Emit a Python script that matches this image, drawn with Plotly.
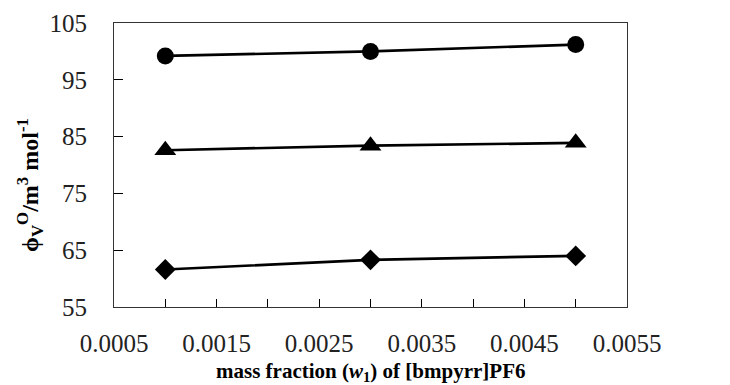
import plotly.graph_objects as go

mass_fraction = [0.001, 0.003, 0.005]
series_circle = [99.2, 100.0, 101.2]
series_triangle = [82.6, 83.4, 83.9]
series_diamond = [61.6, 63.3, 64.0]

x_tick_vals = [0.0005, 0.001, 0.0015, 0.002, 0.0025, 0.003, 0.0035, 0.004, 0.0045, 0.005, 0.0055]
x_tick_text = ["0.0005", "", "0.0015", "", "0.0025", "", "0.0035", "", "0.0045", "", "0.0055"]
y_tick_vals = [55, 65, 75, 85, 95, 105]

fig = go.Figure()
for ys, sym, size in [(series_circle, "circle", 17), (series_triangle, "triangle-up", 19), (series_diamond, "diamond", 16)]:
    fig.add_trace(go.Scatter(
        x=mass_fraction, y=ys, mode="lines+markers",
        line=dict(color="black", width=2.7),
        marker=dict(symbol=sym, size=size, color="black"),
        showlegend=False,
    ))

font_serif = "Liberation Serif"
fig.update_layout(
    width=730, height=385,
    margin=dict(l=106, r=111, t=15, b=86, autoexpand=False),
    paper_bgcolor="white", plot_bgcolor="white",
    font=dict(family=font_serif, color="black"),
    xaxis=dict(
        range=[0.0005, 0.0055], tickvals=x_tick_vals, ticktext=x_tick_text,
        ticks="inside", ticklen=8, tickwidth=1, tickcolor="black",
        showgrid=False, zeroline=False, showline=True, linecolor="#333", linewidth=1, mirror=True,
        tickfont=dict(size=25, family=font_serif, color="#222"),
        ticklabelstandoff=14, automargin=False,
    ),
    yaxis=dict(
        range=[55, 105], tickvals=y_tick_vals,
        ticks="inside", ticklen=9, tickwidth=1, tickcolor="black",
        showgrid=False, zeroline=False, showline=True, linecolor="#333", linewidth=1, mirror=True,
        tickfont=dict(size=25, family=font_serif, color="#222"),
        ticklabelstandoff=21, automargin=False,
    ),
    annotations=[
        dict(text="<b>mass fraction (<i>w</i><sub>1</sub>) of [bmpyrr]PF6</b>",
             xref="paper", yref="paper", x=0.5, y=0, xanchor="center", yanchor="middle",
             yshift=-65, showarrow=False,
             font=dict(size=21, family=font_serif, color="black")),
        dict(text="<b>ϕ<sub>V</sub><sup>O</sup>/m<sup>3</sup> mol<sup>-1</sup></b>",
             xref="paper", yref="paper", x=0, y=0.5, xanchor="center", yanchor="middle",
             xshift=-84, yshift=-20, textangle=-90, showarrow=False,
             font=dict(size=24, family=font_serif, color="black")),
    ],
)
fig.write_html("out.html")
